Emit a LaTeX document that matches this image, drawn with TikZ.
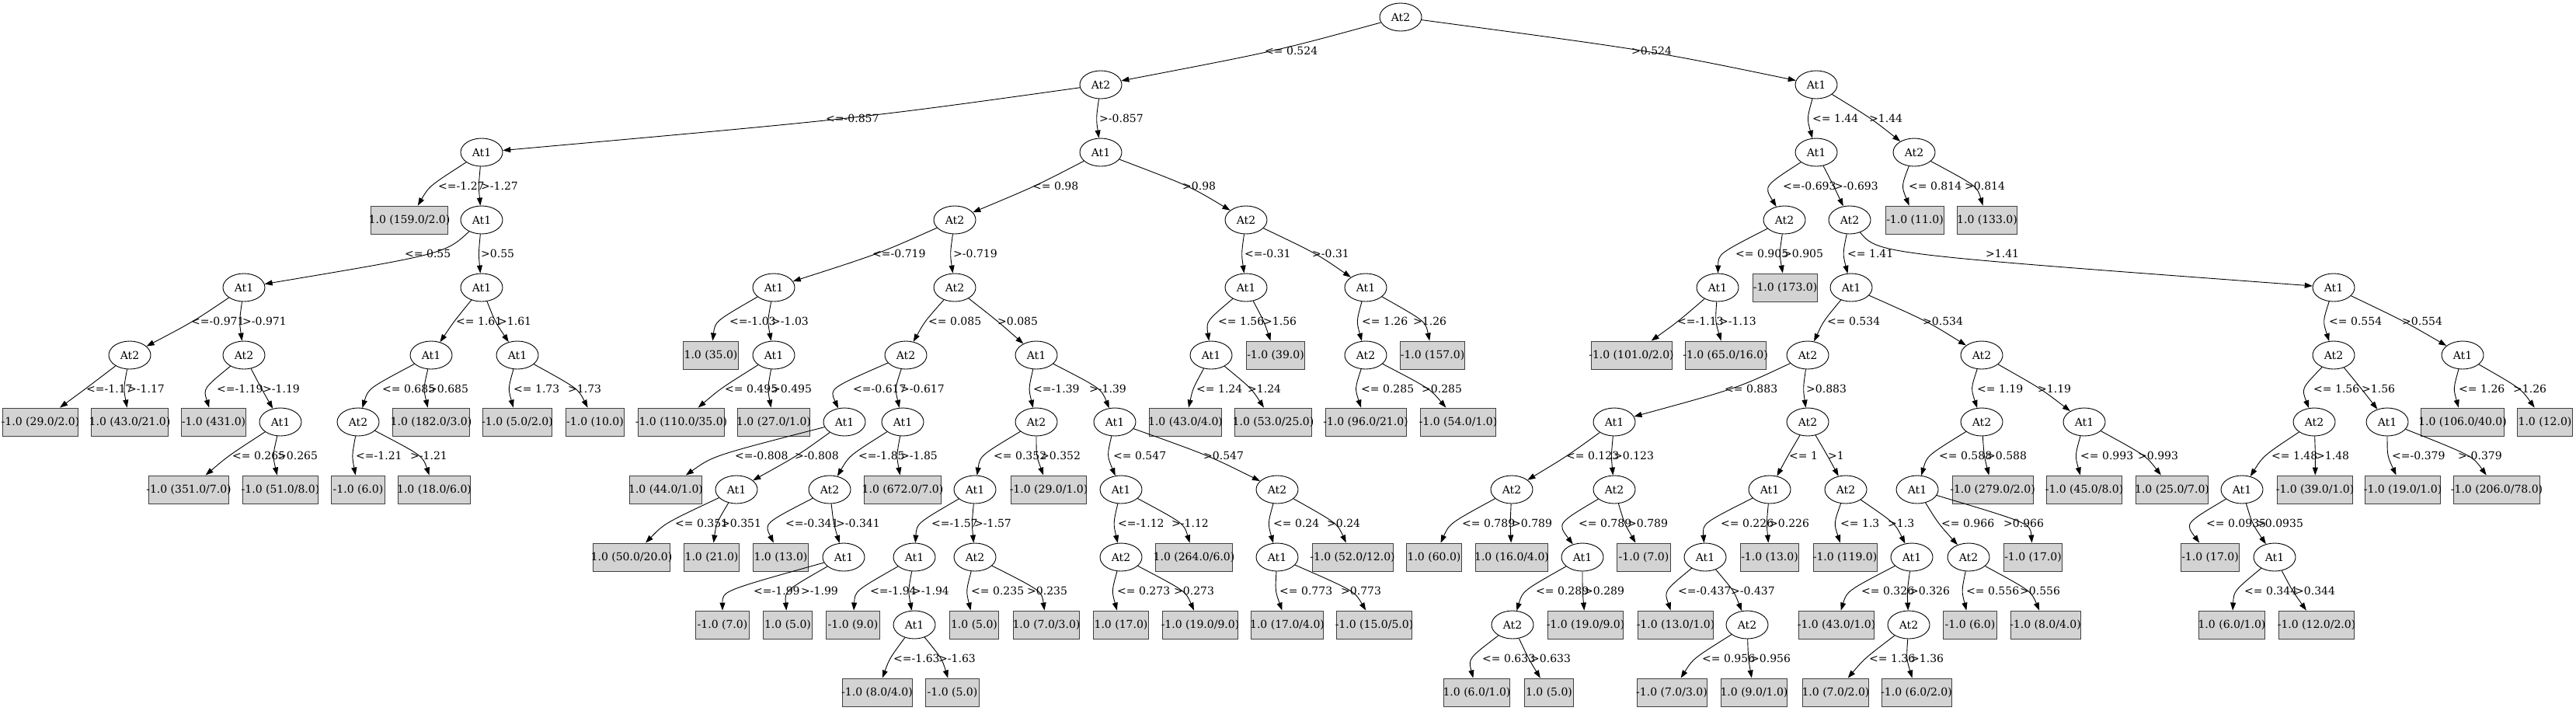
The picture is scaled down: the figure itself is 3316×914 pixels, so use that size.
\documentclass[tikz,border=0pt]{standalone}
\usepackage{fontspec}
\setmainfont{DejaVu Serif}
\newfontfamily\tms{Liberation Serif}
\usetikzlibrary{shapes.geometric,arrows.meta,calc}
\definecolor{lgray}{HTML}{D3D3D3}
\tikzset{
  inode/.style={ellipse, draw, line width=0.9pt, minimum width=54pt, minimum height=36pt, inner sep=0pt},
  leafbox/.style={rectangle, draw=black!75, line width=0.9pt, fill=lgray, minimum width=54pt, minimum height=36pt, inner xsep=8pt, inner ysep=0pt},
  leaftext/.style={inner sep=0pt},
  conn/.style={draw, line width=0.9pt, -{Triangle[length=10pt,width=7pt]}},
  elab/.style={anchor=west, inner sep=0pt},
}
\newcommand{\mkleaf}[4]{%
  \node[leafbox] (#1) at (#2,#3) {\tms\phantom{#4}};
  \node[leaftext] at (#1.center) {#4};
}
\newcommand{\mkedge}[4]{%
  \coordinate (mm) at ($(#1)!0.5!(#2)$);
  \coordinate (lxa) at (#3-1,0);
  \coordinate (lxb) at (#3,0);
  \coordinate (mq) at (lxa |- mm);
  \draw[conn] (#1) .. controls ($2*(mq)-0.5*(#1)-0.5*(#2)$) .. (#2);
  \node[elab] at (lxb |- mm) {#4};
}
\begin{document}
\begin{tikzpicture}[x=1pt,y=-1pt,font=\fontsize{14}{16}\selectfont]
\useasboundingbox[fill=white] (0,0) rectangle (3316,914);
% L0
\node[inode] (root) at (1803,22) {At2};
% L1
\node[inode] (A) at (1417,109) {At2};
\node[inode] (AM) at (2338,109) {At1};
% L2
\node[inode] (B) at (620,196) {At1};
\node[inode] (L) at (1417,196) {At1};
\node[inode] (AN) at (2338,196) {At1};
\node[inode] (BR) at (2464,196) {At2};
% L3
\mkleaf{l1}{527}{283}{1.0 (159.0/2.0)}
\node[inode] (C) at (620,283) {At1};
\node[inode] (M) at (1229,283) {At2};
\node[inode] (AH) at (1604,283) {At2};
\node[inode] (AO) at (2297,283) {At2};
\node[inode] (AQ) at (2381,283) {At2};
\mkleaf{l71}{2465}{283}{-1.0 (11.0)}
\mkleaf{l72}{2558}{283}{1.0 (133.0)}
% L4
\node[inode] (D) at (314,370) {At1};
\node[inode] (H) at (620,370) {At1};
\node[inode] (N) at (996,370) {At1};
\node[inode] (P) at (1229,370) {At2};
\node[inode] (AI) at (1604,370) {At1};
\node[inode] (AK) at (1758,370) {At1};
\node[inode] (AP) at (2211,370) {At1};
\mkleaf{l42}{2298}{370}{-1.0 (173.0)}
\node[inode] (AR) at (2383,370) {At1};
\node[inode] (BK) at (3004,370) {At1};
% L5
\node[inode] (E) at (167,457) {At2};
\node[inode] (F) at (314,457) {At2};
\node[inode] (I) at (555,457) {At1};
\node[inode] (K) at (666,457) {At1};
\mkleaf{l12}{915}{457}{1.0 (35.0)}
\node[inode] (O) at (996,457) {At1};
\node[inode] (Q) at (1166,457) {At2};
\node[inode] (W) at (1334,457) {At1};
\node[inode] (AJ) at (1559,457) {At1};
\mkleaf{l36}{1642}{457}{-1.0 (39.0)}
\node[inode] (AL) at (1758,457) {At2};
\mkleaf{l39}{1844}{457}{-1.0 (157.0)}
\mkleaf{l40}{2100}{457}{-1.0 (101.0/2.0)}
\mkleaf{l41}{2221}{457}{-1.0 (65.0/16.0)}
\node[inode] (AS) at (2327,457) {At2};
\node[inode] (BF) at (2551,457) {At2};
\node[inode] (BL) at (3004,457) {At2};
\node[inode] (BQ) at (3170,457) {At1};
% L6
\mkleaf{l2}{52}{543}{-1.0 (29.0/2.0)}
\mkleaf{l3}{167}{543}{1.0 (43.0/21.0)}
\mkleaf{l4}{275}{543}{-1.0 (431.0)}
\node[inode] (G) at (361,543) {At1};
\node[inode] (J) at (461,543) {At2};
\mkleaf{l9}{555}{543}{1.0 (182.0/3.0)}
\mkleaf{l10}{666}{543}{-1.0 (5.0/2.0)}
\mkleaf{l11}{766}{543}{-1.0 (10.0)}
\mkleaf{l13}{877}{543}{-1.0 (110.0/35.0)}
\mkleaf{l14}{996}{543}{1.0 (27.0/1.0)}
\node[inode] (R) at (1087,543) {At1};
\node[inode] (T) at (1162,543) {At1};
\node[inode] (X) at (1334,543) {At2};
\node[inode] (AC) at (1435,543) {At1};
\mkleaf{l34}{1526}{543}{1.0 (43.0/4.0)}
\mkleaf{l35}{1639}{543}{1.0 (53.0/25.0)}
\mkleaf{l37}{1758}{543}{-1.0 (96.0/21.0)}
\mkleaf{l38}{1877}{543}{-1.0 (54.0/1.0)}
\node[inode] (AT) at (2078,543) {At1};
\node[inode] (AY) at (2327,543) {At2};
\node[inode] (BG) at (2551,543) {At2};
\node[inode] (BJ) at (2683,543) {At1};
\node[inode] (BM) at (2979,543) {At2};
\node[inode] (BP) at (3073,543) {At1};
\mkleaf{l69}{3170}{543}{1.0 (106.0/40.0)}
\mkleaf{l70}{3276}{543}{1.0 (12.0)}
% L7
\mkleaf{l5}{243}{630}{-1.0 (351.0/7.0)}
\mkleaf{l6}{361}{630}{-1.0 (51.0/8.0)}
\mkleaf{l7}{461}{630}{-1.0 (6.0)}
\mkleaf{l8}{559}{630}{1.0 (18.0/6.0)}
\mkleaf{l15}{857}{630}{1.0 (44.0/1.0)}
\node[inode] (S) at (948,630) {At1};
\node[inode] (U) at (1068,630) {At2};
\mkleaf{l21}{1162}{630}{1.0 (672.0/7.0)}
\node[inode] (Y) at (1255,630) {At1};
\mkleaf{l27}{1350}{630}{-1.0 (29.0/1.0)}
\node[inode] (AD) at (1443,630) {At1};
\node[inode] (AF) at (1644,630) {At2};
\node[inode] (AU) at (1946,630) {At2};
\node[inode] (AV) at (2078,630) {At2};
\node[inode] (AZ) at (2278,630) {At1};
\node[inode] (BC) at (2376,630) {At2};
\node[inode] (BH) at (2468,630) {At1};
\mkleaf{l60}{2565}{630}{-1.0 (279.0/2.0)}
\mkleaf{l61}{2683}{630}{-1.0 (45.0/8.0)}
\mkleaf{l62}{2796}{630}{1.0 (25.0/7.0)}
\node[inode] (BN) at (2886,630) {At1};
\mkleaf{l66}{2980}{630}{-1.0 (39.0/1.0)}
\mkleaf{l67}{3093}{630}{-1.0 (19.0/1.0)}
\mkleaf{l68}{3214}{630}{-1.0 (206.0/78.0)}
% L8
\mkleaf{l16}{813}{717}{1.0 (50.0/20.0)}
\mkleaf{l17}{916}{717}{1.0 (21.0)}
\mkleaf{l18}{1005}{717}{1.0 (13.0)}
\node[inode] (V) at (1086,717) {At1};
\node[inode] (Z) at (1177,717) {At1};
\node[inode] (AB) at (1255,717) {At2};
\node[inode] (AE) at (1443,717) {At2};
\mkleaf{l30}{1537}{717}{1.0 (264.0/6.0)}
\node[inode] (AG) at (1644,717) {At1};
\mkleaf{l33}{1741}{717}{-1.0 (52.0/12.0)}
\mkleaf{l43}{1846}{717}{1.0 (60.0)}
\mkleaf{l44}{1946}{717}{1.0 (16.0/4.0)}
\node[inode] (AW) at (2037,717) {At1};
\mkleaf{l48}{2116}{717}{-1.0 (7.0)}
\node[inode] (BA) at (2195,717) {At1};
\mkleaf{l52}{2278}{717}{-1.0 (13.0)}
\mkleaf{l53}{2375}{717}{-1.0 (119.0)}
\node[inode] (BD) at (2461,717) {At1};
\node[inode] (BI) at (2534,717) {At2};
\mkleaf{l59}{2617}{717}{-1.0 (17.0)}
\mkleaf{l63}{2845}{717}{-1.0 (17.0)}
\node[inode] (BO) at (2928,717) {At1};
% L9
\mkleaf{l19}{930}{804}{-1.0 (7.0)}
\mkleaf{l20}{1014}{804}{1.0 (5.0)}
\mkleaf{l22}{1098}{804}{-1.0 (9.0)}
\node[inode] (AA) at (1177,804) {At1};
\mkleaf{l25}{1254}{804}{1.0 (5.0)}
\mkleaf{l26}{1347}{804}{1.0 (7.0/3.0)}
\mkleaf{l28}{1443}{804}{1.0 (17.0)}
\mkleaf{l29}{1545}{804}{-1.0 (19.0/9.0)}
\mkleaf{l31}{1657}{804}{1.0 (17.0/4.0)}
\mkleaf{l32}{1769}{804}{-1.0 (15.0/5.0)}
\node[inode] (AX) at (1947,804) {At2};
\mkleaf{l47}{2041}{804}{-1.0 (19.0/9.0)}
\mkleaf{l49}{2157}{804}{-1.0 (13.0/1.0)}
\node[inode] (BB) at (2249,804) {At2};
\mkleaf{l54}{2364}{804}{-1.0 (43.0/1.0)}
\node[inode] (BE) at (2457,804) {At2};
\mkleaf{l57}{2536}{804}{-1.0 (6.0)}
\mkleaf{l58}{2633}{804}{-1.0 (8.0/4.0)}
\mkleaf{l64}{2873}{804}{1.0 (6.0/1.0)}
\mkleaf{l65}{2982}{804}{-1.0 (12.0/2.0)}
% L10
\mkleaf{l23}{1129}{891}{-1.0 (8.0/4.0)}
\mkleaf{l24}{1226}{891}{-1.0 (5.0)}
\mkleaf{l45}{1901}{891}{1.0 (6.0/1.0)}
\mkleaf{l46}{1994}{891}{1.0 (5.0)}
\mkleaf{l50}{2152}{891}{-1.0 (7.0/3.0)}
\mkleaf{l51}{2258}{891}{1.0 (9.0/1.0)}
\mkleaf{l55}{2363}{891}{1.0 (7.0/2.0)}
\mkleaf{l56}{2467}{891}{-1.0 (6.0/2.0)}
% edges
\mkedge{root}{A}{1628}{<= 0.524}
\mkedge{root}{AM}{2100}{>0.524}
\mkedge{A}{B}{1063}{<=-0.857}
\mkedge{A}{L}{1415}{>-0.857}
\mkedge{AM}{AN}{2333}{<= 1.44}
\mkedge{AM}{BR}{2406}{>1.44}
\mkedge{B}{l1}{564}{<=-1.27}
\mkedge{B}{C}{619}{>-1.27}
\mkedge{L}{M}{1329}{<= 0.98}
\mkedge{L}{AH}{1522}{>0.98}
\mkedge{AN}{AO}{2295}{<=-0.693}
\mkedge{AN}{AQ}{2361}{>-0.693}
\mkedge{BR}{l71}{2457}{<= 0.814}
\mkedge{BR}{l72}{2529}{>0.814}
\mkedge{C}{D}{521}{<= 0.55}
\mkedge{C}{H}{619}{>0.55}
\mkedge{M}{N}{1123}{<=-0.719}
\mkedge{M}{P}{1227}{>-0.719}
\mkedge{AH}{AI}{1602}{<=-0.31}
\mkedge{AH}{AK}{1689}{>-0.31}
\mkedge{AO}{AP}{2234}{<= 0.905}
\mkedge{AO}{l42}{2295}{>0.905}
\mkedge{AQ}{AR}{2378}{<= 1.41}
\mkedge{AQ}{BK}{2556}{>1.41}
\mkedge{D}{E}{246}{<=-0.971}
\mkedge{D}{F}{312}{>-0.971}
\mkedge{H}{I}{587}{<= 1.61}
\mkedge{H}{K}{641}{>1.61}
\mkedge{N}{l12}{939}{<=-1.03}
\mkedge{N}{O}{993}{>-1.03}
\mkedge{P}{Q}{1195}{<= 0.085}
\mkedge{P}{W}{1284}{>0.085}
\mkedge{AI}{AJ}{1568}{<= 1.56}
\mkedge{AI}{l36}{1626}{>1.56}
\mkedge{AK}{AL}{1753}{<= 1.26}
\mkedge{AK}{l39}{1819}{>1.26}
\mkedge{AP}{l40}{2159}{<=-1.13}
\mkedge{AP}{l41}{2213}{>-1.13}
\mkedge{AR}{AS}{2352}{<= 0.534}
\mkedge{AR}{BF}{2475}{>0.534}
\mkedge{BK}{BL}{2998}{<= 0.554}
\mkedge{BK}{BQ}{3092}{>0.554}
\mkedge{E}{l2}{111}{<=-1.17}
\mkedge{E}{l3}{164}{>-1.17}
\mkedge{F}{l4}{279}{<=-1.19}
\mkedge{F}{G}{338}{>-1.19}
\mkedge{I}{J}{492}{<= 0.685}
\mkedge{I}{l9}{551}{>0.685}
\mkedge{K}{l10}{661}{<= 1.73}
\mkedge{K}{l11}{731}{>1.73}
\mkedge{O}{l13}{933}{<= 0.495}
\mkedge{O}{l14}{993}{>0.495}
\mkedge{Q}{R}{1098}{<=-0.617}
\mkedge{Q}{T}{1159}{>-0.617}
\mkedge{W}{X}{1330}{<=-1.39}
\mkedge{W}{AC}{1402}{>-1.39}
\mkedge{AJ}{l34}{1540}{<= 1.24}
\mkedge{AJ}{l35}{1606}{>1.24}
\mkedge{AL}{l37}{1752}{<= 0.285}
\mkedge{AL}{l38}{1830}{>0.285}
\mkedge{AS}{AT}{2220}{<= 0.883}
\mkedge{AS}{AY}{2325}{>0.883}
\mkedge{BF}{BG}{2545}{<= 1.19}
\mkedge{BF}{BJ}{2623}{>1.19}
\mkedge{BL}{BM}{2978}{<= 1.56}
\mkedge{BL}{BP}{3040}{>1.56}
\mkedge{BQ}{l69}{3165}{<= 1.26}
\mkedge{BQ}{l70}{3235}{>1.26}
\mkedge{G}{l5}{299}{<= 0.265}
\mkedge{G}{l6}{357}{>0.265}
\mkedge{J}{l7}{458}{<=-1.21}
\mkedge{J}{l8}{528}{>-1.21}
\mkedge{R}{l15}{946}{<=-0.808}
\mkedge{R}{S}{1023}{>-0.808}
\mkedge{T}{U}{1105}{<=-1.85}
\mkedge{T}{l21}{1159}{>-1.85}
\mkedge{X}{Y}{1279}{<= 0.352}
\mkedge{X}{l27}{1339}{>0.352}
\mkedge{AC}{AD}{1433}{<= 0.547}
\mkedge{AC}{AF}{1549}{>0.547}
\mkedge{AT}{AU}{2016}{<= 0.123}
\mkedge{AT}{AV}{2077}{>0.123}
\mkedge{AY}{AZ}{2303}{<= 1}
\mkedge{AY}{BC}{2353}{>1}
\mkedge{BG}{BH}{2496}{<= 0.588}
\mkedge{BG}{l60}{2557}{>0.588}
\mkedge{BJ}{l61}{2678}{<= 0.993}
\mkedge{BJ}{l62}{2752}{>0.993}
\mkedge{BM}{BN}{2924}{<= 1.48}
\mkedge{BM}{l66}{2981}{>1.48}
\mkedge{BP}{l67}{3079}{<=-0.379}
\mkedge{BP}{l68}{3164}{>-0.379}
\mkedge{S}{l16}{869}{<= 0.351}
\mkedge{S}{l17}{928}{>0.351}
\mkedge{U}{l18}{1011}{<=-0.341}
\mkedge{U}{V}{1076}{>-0.341}
\mkedge{Y}{Z}{1199}{<=-1.57}
\mkedge{Y}{AB}{1254}{>-1.57}
\mkedge{AD}{AE}{1439}{<=-1.12}
\mkedge{AD}{l30}{1508}{>-1.12}
\mkedge{AF}{AG}{1639}{<= 0.24}
\mkedge{AF}{l33}{1708}{>0.24}
\mkedge{AU}{l43}{1882}{<= 0.789}
\mkedge{AU}{l44}{1946}{>0.789}
\mkedge{AV}{AW}{2032}{<= 0.789}
\mkedge{AV}{l48}{2095}{>0.789}
\mkedge{AZ}{BA}{2215}{<= 0.226}
\mkedge{AZ}{l52}{2277}{>0.226}
\mkedge{BC}{l53}{2369}{<= 1.3}
\mkedge{BC}{BD}{2430}{>1.3}
\mkedge{BH}{BI}{2499}{<= 0.966}
\mkedge{BH}{l59}{2579}{>0.966}
\mkedge{BN}{l63}{2840}{<= 0.0935}
\mkedge{BN}{BO}{2904}{>0.0935}
\mkedge{V}{l19}{970}{<=-1.99}
\mkedge{V}{l20}{1031}{>-1.99}
\mkedge{Z}{l22}{1120}{<=-1.94}
\mkedge{Z}{AA}{1174}{>-1.94}
\mkedge{AB}{l25}{1250}{<= 0.235}
\mkedge{AB}{l26}{1322}{>0.235}
\mkedge{AE}{l28}{1438}{<= 0.273}
\mkedge{AE}{l29}{1511}{>0.273}
\mkedge{AG}{l31}{1647}{<= 0.773}
\mkedge{AG}{l32}{1726}{>0.773}
\mkedge{AW}{AX}{1977}{<= 0.289}
\mkedge{AW}{l47}{2039}{>0.289}
\mkedge{BA}{l49}{2160}{<=-0.437}
\mkedge{BA}{BB}{2228}{>-0.437}
\mkedge{BD}{l54}{2396}{<= 0.326}
\mkedge{BD}{BE}{2458}{>0.326}
\mkedge{BI}{l57}{2531}{<= 0.556}
\mkedge{BI}{l58}{2600}{>0.556}
\mkedge{BO}{l64}{2889}{<= 0.344}
\mkedge{BO}{l65}{2954}{>0.344}
\mkedge{AA}{l23}{1150}{<=-1.63}
\mkedge{AA}{l24}{1208}{>-1.63}
\mkedge{AX}{l45}{1908}{<= 0.633}
\mkedge{AX}{l46}{1970}{>0.633}
\mkedge{BB}{l50}{2191}{<= 0.956}
\mkedge{BB}{l51}{2253}{>0.956}
\mkedge{BE}{l55}{2406}{<= 1.36}
\mkedge{BE}{l56}{2459}{>1.36}
\end{tikzpicture}
\end{document}
